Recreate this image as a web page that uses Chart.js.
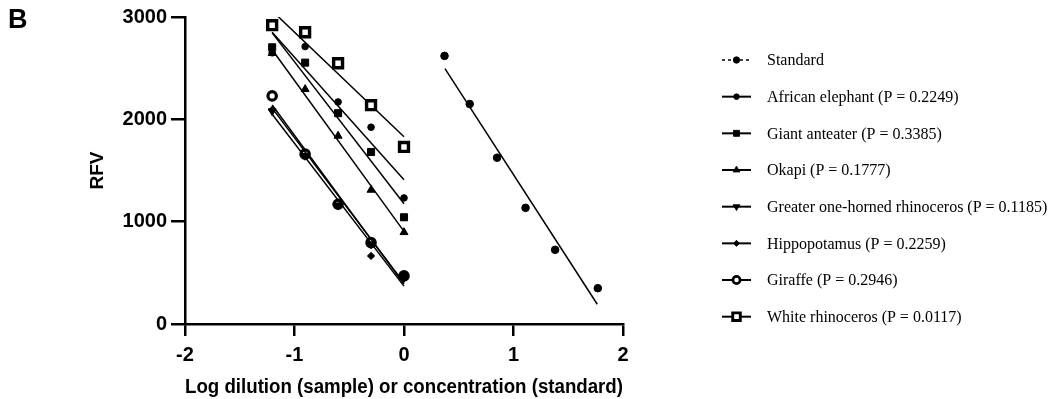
<!DOCTYPE html>
<html>
<head>
<meta charset="utf-8">
<script src="https://cdn.jsdelivr.net/npm/chart.js@4.4.1/dist/chart.umd.min.js"></script>
<style>
  html, body { margin: 0; padding: 0; background: #fff; }
  #wrap { width: 1049px; height: 399px; }
</style>
</head>
<body>
<div id="wrap"><canvas id="rfvChart" width="1049" height="399"></canvas></div>
<script>
// sample dilutions (log10 of 1/16 .. 1)
const logDilution = [-1.204, -0.903, -0.602, -0.301, 0];
const fitX = [-1.204, 0];

// standard curve
const standardConc = [0.37, 0.60, 0.85, 1.11, 1.38, 1.77];
const standardRfv = [2620, 2150, 1625, 1135, 725, 350];
const standardFitX = [0.374, 1.765];
const standardFit = [2495, 193];

// samples, RFV per dilution
const elephantRfv = [2650, 2711, 2170, 1923, 1232];
const anteaterRfv = [2704, 2554, 2060, 1681, 1043];
const okapiRfv = [2646, 2294, 1838, 1310, 896];
const rhinoOneHornRfv = [2080, 1645, 1160, 780, 455];
const hippoRfv = [2092, 1640, 1150, 665, 480];
const giraffeRfv = [2229, 1660, 1170, 795, 470];
const whiteRhinoRfv = [2920, 2851, 2548, 2138, 1730];

// fitted lines (value at first and last dilution)
const elephantFit = [2850, 1410];
const anteaterFit = [2845, 1175];
const okapiFit = [2680, 905];
const rhinoOneHornFit = [2110, 400];
const hippoFit = [2050, 370];
const giraffeFit = [2140, 390];
const whiteRhinoFit = [3060, 1830];

const legendLabels = [
  'Standard',
  'African elephant (P = 0.2249)',
  'Giant anteater (P = 0.3385)',
  'Okapi (P = 0.1777)',
  'Greater one-horned rhinoceros (P = 0.1185)',
  'Hippopotamus (P = 0.2259)',
  'Giraffe (P = 0.2946)',
  'White rhinoceros (P = 0.0117)',
];

const series = [
  { xs: standardConc, ys: standardRfv, fxs: standardFitX, fys: standardFit, style: 'circle', radius: 3.8, fill: '#000', bw: 1, dash: [3, 3] },
  { xs: logDilution, ys: elephantRfv, fxs: fitX, fys: elephantFit, style: 'circle', radius: 3.3, fill: '#000', bw: 1 },
  { xs: logDilution, ys: anteaterRfv, fxs: fitX, fys: anteaterFit, style: 'rect', radius: 5, fill: '#000', bw: 1 },
  { xs: logDilution, ys: okapiRfv, fxs: fitX, fys: okapiFit, style: 'triangle', radius: 4.6, fill: '#000', bw: 1 },
  { xs: logDilution, ys: rhinoOneHornRfv, fxs: fitX, fys: rhinoOneHornFit, style: 'triangle', rotation: 180, radius: 4.6, fill: '#000', bw: 1 },
  { xs: logDilution, ys: hippoRfv, fxs: fitX, fys: hippoFit, style: 'rectRot', radius: 3.6, fill: '#000', bw: 1 },
  { xs: logDilution, ys: giraffeRfv, fxs: fitX, fys: giraffeFit, style: 'circle', radius: 4.2, fill: '#fff', bw: 3.2 },
  { xs: logDilution, ys: whiteRhinoRfv, fxs: fitX, fys: whiteRhinoFit, style: 'rect', radius: 6.3, fill: '#fff', bw: 3.4 },
];

function toPoints(xs, ys) {
  return xs.map((x, i) => ({ x, y: ys[i] })).filter((p) => p.y != null);
}

const datasets = [];
series.forEach((s, i) => {
  datasets.push({
    label: legendLabels[i],
    data: toPoints(s.xs, s.ys),
    showLine: false,
    pointStyle: s.style,
    pointRotation: s.rotation || 0,
    pointRadius: s.radius,
    pointBackgroundColor: s.fill,
    pointBorderColor: '#000',
    pointBorderWidth: s.bw,
  });
  datasets.push({
    label: legendLabels[i] + ' fit',
    data: toPoints(s.fxs, s.fys),
    showLine: true,
    borderColor: '#000',
    borderWidth: 1.5,
    pointRadius: 0,
  });
});

const sideLegend = {
  id: 'sideLegend',
  afterDraw(chart) {
    const { ctx } = chart;
    ctx.save();
    ctx.fillStyle = '#000';
    ctx.font = 'bold 27px "Liberation Sans", Arial, sans-serif';
    ctx.textAlign = 'left';
    ctx.textBaseline = 'top';
    ctx.fillText('B', 8, 7);

    ctx.font = '16px "Liberation Serif", "Times New Roman", serif';
    ctx.textBaseline = 'middle';
    series.forEach((s, i) => {
      const y = 60 + i * 36.67;
      ctx.strokeStyle = '#000';
      ctx.lineWidth = s.dash ? 1.5 : 2;
      ctx.setLineDash(s.dash || []);
      ctx.beginPath();
      ctx.moveTo(722, y);
      ctx.lineTo(751, y);
      ctx.stroke();
      ctx.setLineDash([]);
      ctx.fillStyle = s.fill;
      ctx.lineWidth = s.bw * 0.85;
      Chart.helpers.drawPoint(ctx, {
        pointStyle: s.style,
        rotation: s.rotation || 0,
        radius: s.radius * 0.85,
        borderWidth: s.bw,
      }, 736.5, y);
      ctx.fillStyle = '#000';
      ctx.fillText(legendLabels[i], 767, y + 1);
    });
    ctx.restore();
  },
};

const axisFont = { family: '"Liberation Sans", Arial, sans-serif', size: 20, weight: 'bold' };

new Chart(document.getElementById('rfvChart'), {
  type: 'scatter',
  data: { datasets },
  options: {
    responsive: false,
    animation: false,
    layout: { padding: { left: 70, right: 426, top: 17, bottom: 0 } },
    plugins: {
      legend: { display: false },
      tooltip: { enabled: false },
    },
    scales: {
      x: {
        type: 'linear',
        min: -2,
        max: 2,
        afterFit: (scale) => { scale.height = 75; },
        border: { display: true, color: '#000', width: 2.5 },
        grid: { drawOnChartArea: false, drawTicks: true, tickLength: 12, color: '#000', lineWidth: 2.5 },
        ticks: { stepSize: 1, color: '#000', font: axisFont, padding: 7, callback: (v) => String(v) },
        title: {
          display: true,
          text: 'Log dilution (sample) or concentration (standard)',
          color: '#000',
          font: axisFont,
          padding: { top: 0, bottom: 0 },
        },
      },
      y: {
        type: 'linear',
        min: 0,
        max: 3000,
        afterFit: (scale) => { scale.width = 115; },
        border: { display: true, color: '#000', width: 2.5 },
        grid: { drawOnChartArea: false, drawTicks: true, tickLength: 14, color: '#000', lineWidth: 2.5 },
        ticks: { stepSize: 1000, color: '#000', font: axisFont, padding: 4, callback: (v) => String(v) },
        title: {
          display: true,
          text: 'RFV',
          color: '#000',
          font: { family: '"Liberation Sans", Arial, sans-serif', size: 19, weight: 'bold' },
          padding: { top: 16, bottom: 0 },
        },
      },
    },
  },
  plugins: [sideLegend],
});
</script>
</body>
</html>
